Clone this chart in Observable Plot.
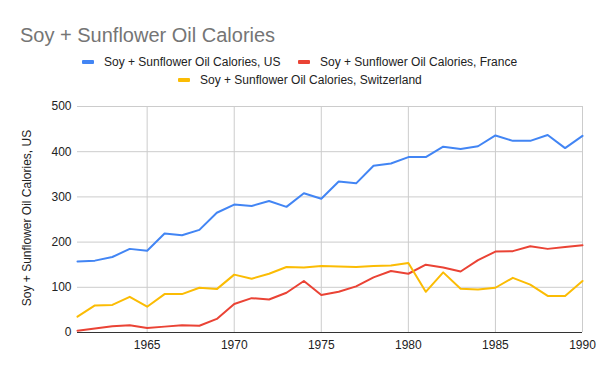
<!DOCTYPE html>
<html>
<head>
<meta charset="utf-8">
<script src="https://cdn.jsdelivr.net/npm/d3@7"></script>
<script src="https://cdn.jsdelivr.net/npm/@observablehq/plot@0.6"></script>
<style>
  html, body { margin: 0; padding: 0; background: #fff; }
  body { width: 600px; height: 371px; position: relative; overflow: hidden; font-family: "Liberation Sans", Arial, sans-serif; }
  #title { position: absolute; left: 20px; top: 24px; font-size: 20px; color: #757575; white-space: nowrap; }
  .lg { position: absolute; font-size: 12px; color: #222; white-space: nowrap; display: flex; align-items: center; }
  .sw { display: inline-block; width: 12px; height: 4px; border-radius: 1px; margin-right: 10px; }
  #chart { position: absolute; left: 0; top: 95px; }
  #ylabel { position: absolute; left: 27px; top: 218px; font-size: 12px; color: #222; white-space: nowrap; transform: translate(-50%, -50%) rotate(-90deg); }
</style>
</head>
<body>
<div id="title">Soy + Sunflower Oil Calories</div>
<div id="legend"></div>
<div id="chart"></div>
<div id="ylabel"></div>
<script>
const years = [1961,1962,1963,1964,1965,1966,1967,1968,1969,1970,1971,1972,1973,1974,1975,1976,1977,1978,1979,1980,1981,1982,1983,1984,1985,1986,1987,1988,1989,1990];
const seriesNames = ["Soy + Sunflower Oil Calories, US", "Soy + Sunflower Oil Calories, France", "Soy + Sunflower Oil Calories, Switzerland"];
const us = [157,159,167,185,181,219,215,227,265,283,280,291,278,308,296,334,330,369,374,388,388,411,406,412,436,424,424,437,408,435];
const france = [4,9,14,16,10,13,16,15,30,63,76,73,88,114,83,90,102,122,136,130,150,144,135,160,179,180,191,185,189,193];
const switzerland = [35,60,61,79,57,85,85,99,96,128,119,130,145,144,147,146,145,147,148,154,90,133,97,95,99,121,106,81,81,114];
const colors = ["#4285F4", "#EA4335", "#FBBC04"];
const xTicks = [1965,1970,1975,1980,1985,1990];
const yTicks = [0,100,200,300,400,500];
const yLabel = "Soy + Sunflower Oil Calories, US";

const rows = [];
[us, france, switzerland].forEach((vals, i) => {
  vals.forEach((v, j) => rows.push({year: years[j], value: v, series: seriesNames[i]}));
});

// legend
const legend = document.getElementById("legend");
const legendPos = [[82, 55], [298, 55], [178, 73]];
seriesNames.forEach((name, i) => {
  const d = document.createElement("div");
  d.className = "lg";
  d.style.left = legendPos[i][0] + "px";
  d.style.top = legendPos[i][1] + "px";
  d.innerHTML = `<span class="sw" style="background:${colors[i]}"></span><span>${name}</span>`;
  legend.appendChild(d);
});
document.getElementById("ylabel").textContent = yLabel;

const chart = Plot.plot({
  width: 600,
  height: 276,
  marginTop: 11,
  marginBottom: 39,
  marginLeft: 77,
  marginRight: 18,
  style: {fontFamily: "'Liberation Sans', Arial, sans-serif", fontSize: "12px", color: "#222", background: "transparent"},
  x: {domain: [1961, 1990], ticks: xTicks, tickFormat: d => String(d), label: null},
  y: {domain: [0, 500], ticks: yTicks, label: null},
  color: {domain: seriesNames, range: colors},
  marks: [
    Plot.gridX(xTicks, {stroke: "#cccccc", strokeOpacity: 1}),
    Plot.gridY(yTicks, {stroke: "#cccccc", strokeOpacity: 1}),
    Plot.axisX(xTicks, {tickSize: 0, tickPadding: 8, label: null, tickFormat: d => String(d), fill: "#222"}),
    Plot.axisY(yTicks, {tickSize: 0, tickPadding: 6, label: null, fill: "#222"}),
    Plot.ruleY([0], {stroke: "#333", strokeWidth: 1}),
    Plot.line(rows, {x: "year", y: "value", stroke: "series", strokeWidth: 2, curve: "linear"})
  ]
});
document.getElementById("chart").appendChild(chart);
</script>
</body>
</html>
